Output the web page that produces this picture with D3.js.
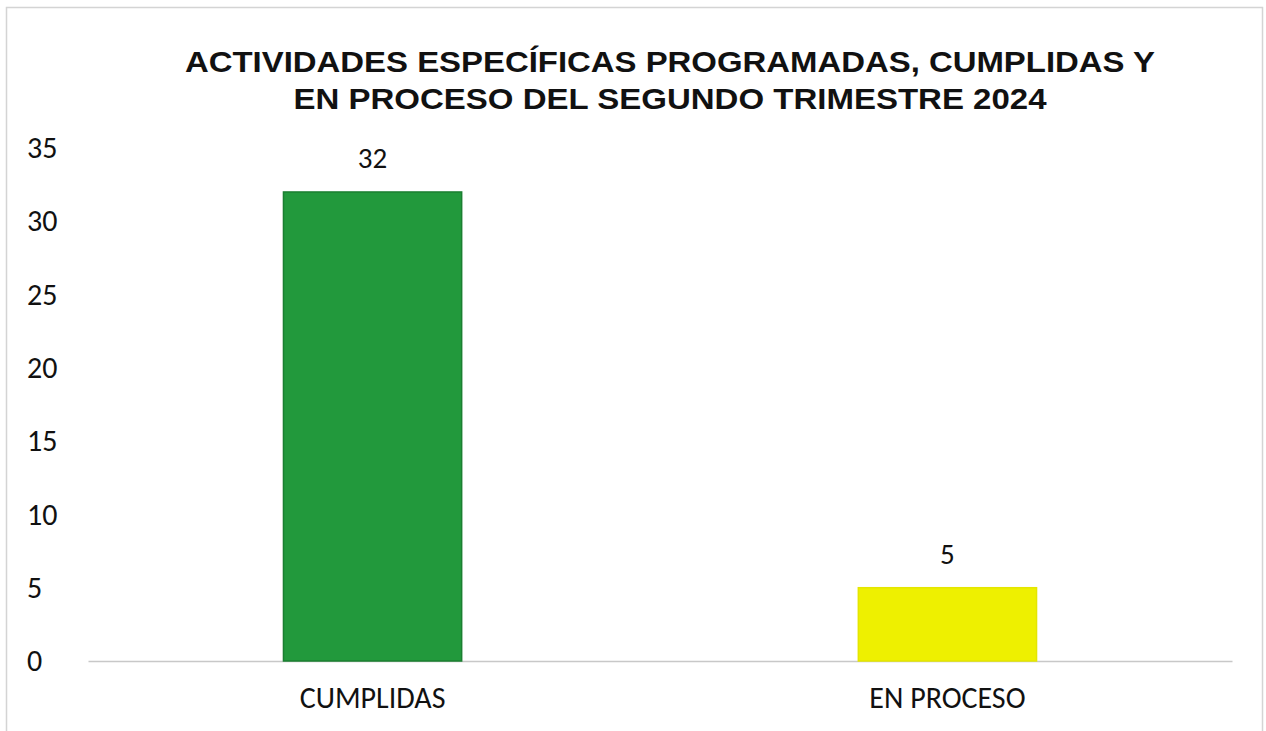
<!DOCTYPE html>
<html>
<head>
<meta charset="utf-8">
<script src="https://cdn.jsdelivr.net/npm/d3@7"></script>
<style>
body { margin: 0; background: #fff; }
</style>
</head>
<body>
<script>
var categories = ["CUMPLIDAS", "EN PROCESO"];
var values = [32, 5];
var colors = ["#22993c", "#eef000"];
var strokes = ["#1b7f31", "#e4e600"];
var titleLines = ["ACTIVIDADES ESPECÍFICAS PROGRAMADAS, CUMPLIDAS Y", "EN PROCESO DEL SEGUNDO TRIMESTRE 2024"];
var titleWidths = [970, 753];
var yTicks = [0, 5, 10, 15, 20, 25, 30, 35];

var w = 1266, h = 731;
var m = {left: 88, right: 34, top: 148, bottom: 70};
var lblFont = "Carlito, Calibri, Lato, sans-serif";

var svg = d3.select("body").append("svg").attr("width", w).attr("height", h);

// chart frame
svg.append("rect").attr("x", 6.5).attr("y", 7.5).attr("width", 1256).attr("height", 740)
	.attr("fill", "none").attr("stroke", "#d4d4d4").attr("stroke-width", 1.5);

var x = d3.scaleBand().domain(categories).range([m.left, w - m.right]).paddingInner(0.69).paddingOuter(0.34);
var y = d3.scaleLinear().domain([0, 35]).range([h - m.bottom, m.top]);

svg.selectAll(".title").data(titleLines).enter().append("text")
	.attr("x", 670)
	.attr("y", function(d, i) { return 72 + i * 37; })
	.attr("text-anchor", "middle")
	.attr("font-family", "Liberation Sans, Arial, sans-serif")
	.attr("font-weight", "bold")
	.attr("font-size", "30px")
	.attr("textLength", function(d, i) { return titleWidths[i]; })
	.attr("lengthAdjust", "spacingAndGlyphs")
	.attr("fill", "#111")
	.text(function(d) { return d; });

var yAxis = svg.append("g").attr("transform", "translate(" + m.left + ",0)")
	.call(d3.axisLeft(y).tickValues(yTicks).tickSize(0));
yAxis.select(".domain").remove();
yAxis.selectAll("text").attr("font-family", lblFont)
	.attr("font-size", "30px").attr("fill", "#111").attr("text-anchor", "start").attr("x", -61);

var xAxis = svg.append("g").attr("transform", "translate(0," + y(0) + ")")
	.call(d3.axisBottom(x).tickSize(0).tickPadding(26));
xAxis.select(".domain").attr("stroke", "#c8c8c8").attr("stroke-width", 1.5);
xAxis.selectAll("text").attr("font-family", lblFont)
	.attr("font-size", "30px").attr("fill", "#111");

svg.selectAll(".bar").data(values).enter().append("rect")
	.attr("x", function(d, i) { return x(categories[i]); })
	.attr("y", function(d) { return y(d); })
	.attr("width", x.bandwidth())
	.attr("height", function(d) { return y(0) - y(d); })
	.attr("fill", function(d, i) { return colors[i]; })
	.attr("stroke", function(d, i) { return strokes[i]; })
	.attr("stroke-width", 1.5);

svg.selectAll(".lbl").data(values).enter().append("text")
	.attr("x", function(d, i) { return x(categories[i]) + x.bandwidth() / 2; })
	.attr("y", function(d) { return y(d) - 24; })
	.attr("text-anchor", "middle")
	.attr("font-family", lblFont)
	.attr("font-size", "29px")
	.attr("fill", "#111")
	.text(function(d) { return d; });
</script>
</body>
</html>
